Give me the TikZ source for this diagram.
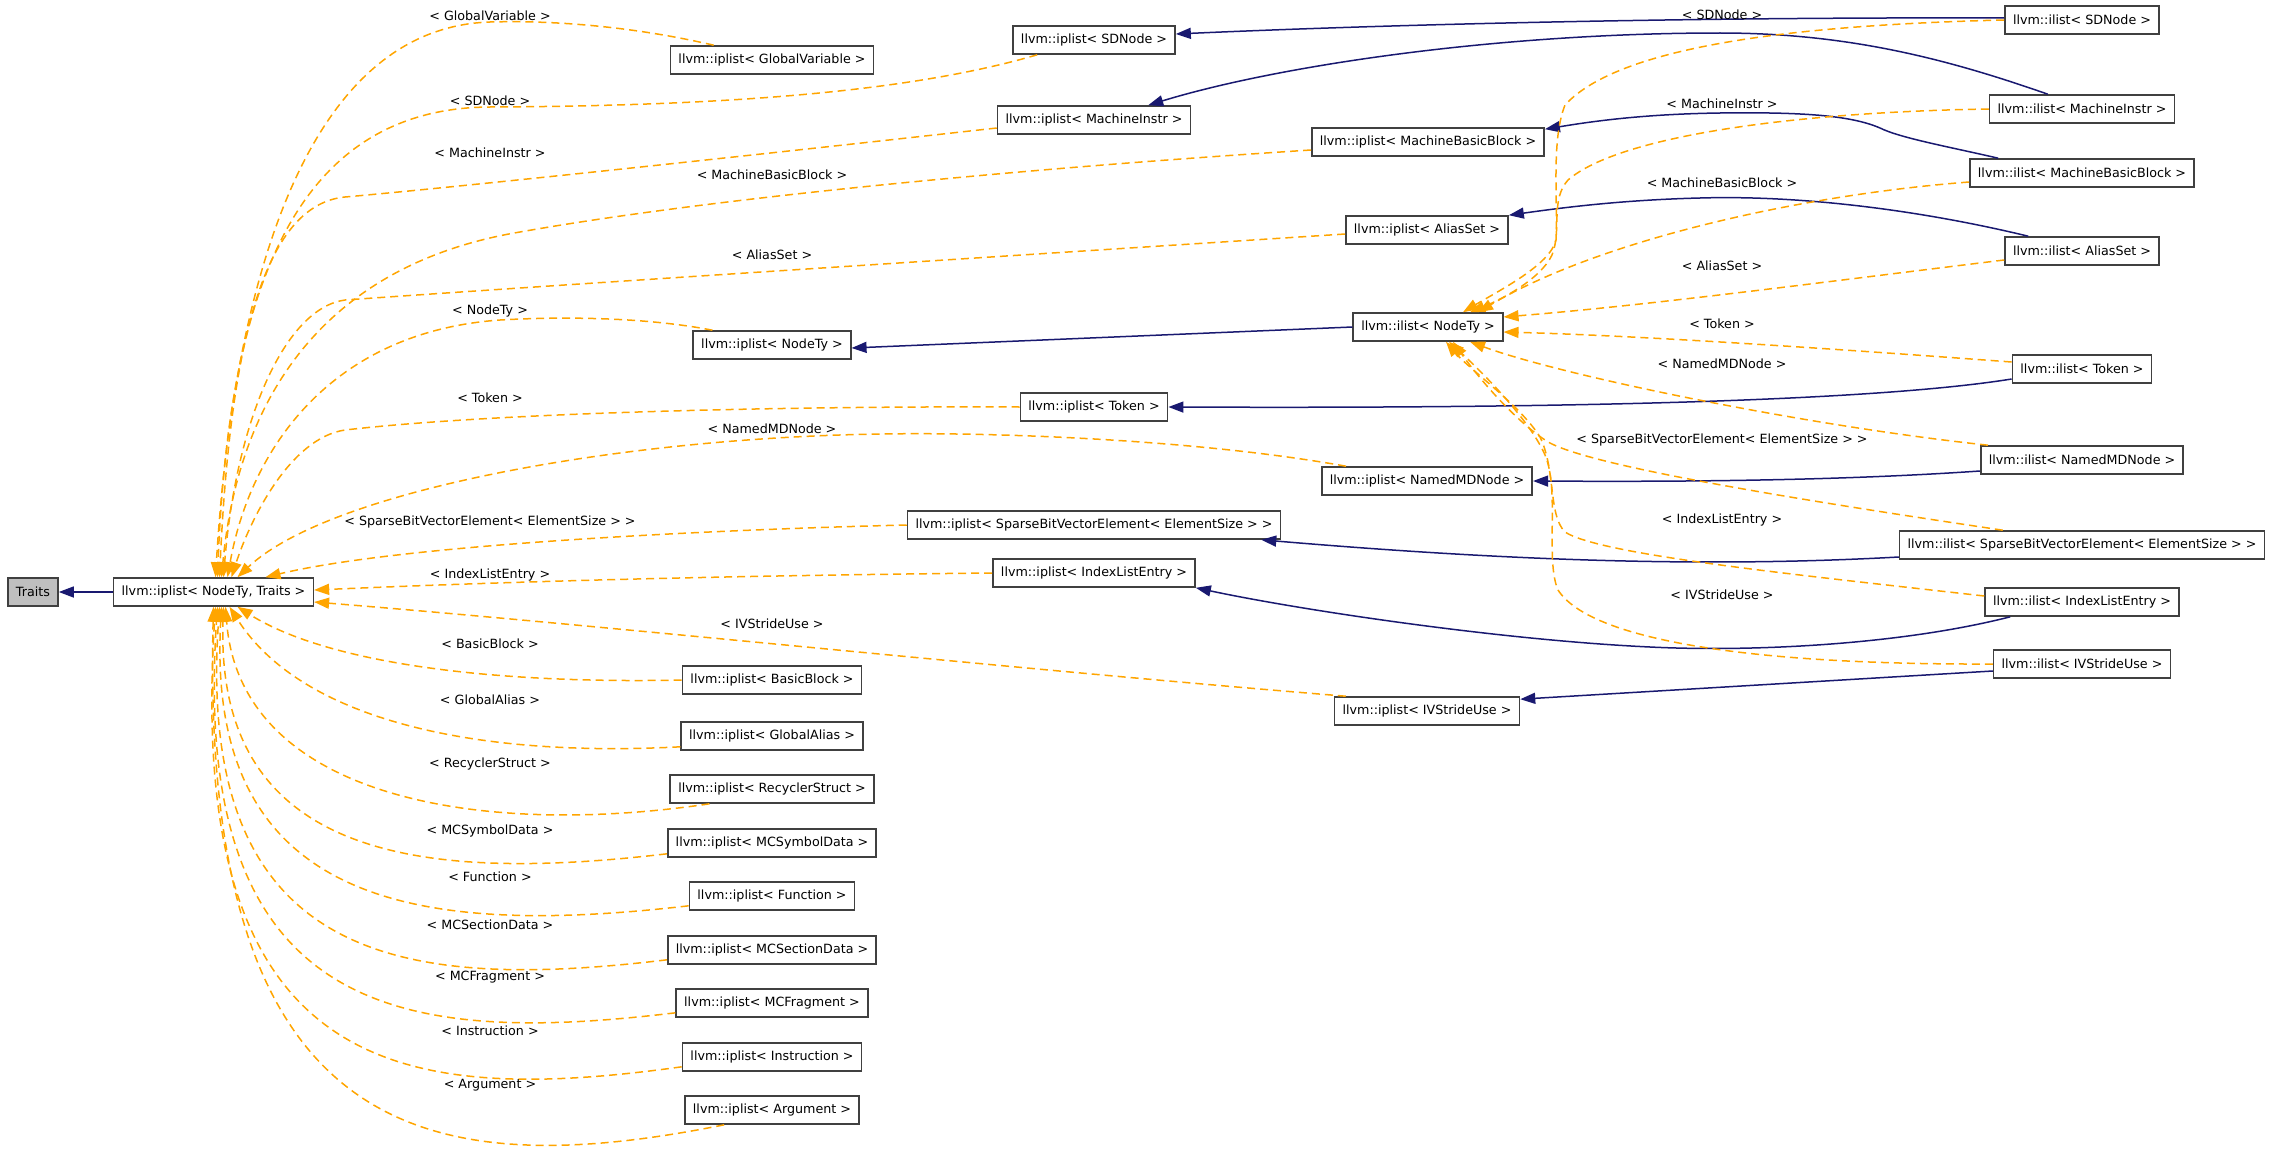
\documentclass[tikz,border=0pt]{standalone}
\usepackage{fontspec}
\setmainfont{DejaVu Sans}
\usepackage{tikz}
\usetikzlibrary{arrows.meta}
\definecolor{edgeblue}{HTML}{191970}
\definecolor{edgeorange}{HTML}{FFA500}
\definecolor{basegray}{HTML}{BFBFBF}
\definecolor{boxline}{HTML}{404040}

\begin{document}
\begin{tikzpicture}[x=1pt,y=-1pt,
    font=\fontsize{12.7}{15}\selectfont,
    cls/.style={draw=boxline,line width=1.6pt,fill=white,inner xsep=8pt,inner ysep=0pt,minimum height=28pt},
    inherit/.style={edgeblue,line width=1.5pt,-{Triangle[length=15pt,width=11pt]}},
    tmplinst/.style={edgeorange,line width=1.5pt,dash pattern=on 8pt off 5pt,-{Triangle[length=15pt,width=11pt]}},
    tmpllbl/.style={inner sep=0pt}]
    \useasboundingbox (0,0) rectangle (2275,1156);

    \node[cls,fill=basegray] (traits) at (33,592) {Traits};
    \node[cls] (iplistbase) at (213.5,592) {llvm::iplist< NodeTy, Traits >};

    \node[cls] (ipGV) at (772,60) {llvm::iplist< GlobalVariable >};
    \node[cls] (ipSD) at (1094,40) {llvm::iplist< SDNode >};
    \node[cls] (ipMI) at (1094,120) {llvm::iplist< MachineInstr >};
    \node[cls] (ipMBB) at (1428,142) {llvm::iplist< MachineBasicBlock >};
    \node[cls] (ipAS) at (1427,230) {llvm::iplist< AliasSet >};
    \node[cls] (ipNT) at (772,345) {llvm::iplist< NodeTy >};
    \node[cls] (ilNT) at (1428,327) {llvm::ilist< NodeTy >};
    \node[cls] (ipTok) at (1094,407) {llvm::iplist< Token >};
    \node[cls] (ipNMD) at (1427,481) {llvm::iplist< NamedMDNode >};
    \node[cls] (ipSBV) at (1094,525) {llvm::iplist< SparseBitVectorElement< ElementSize > >};
    \node[cls] (ipILE) at (1094,573) {llvm::iplist< IndexListEntry >};
    \node[cls] (ipIVS) at (1427,711) {llvm::iplist< IVStrideUse >};
    \node[cls] (ipBB) at (772,680) {llvm::iplist< BasicBlock >};
    \node[cls] (ipGA) at (772,736) {llvm::iplist< GlobalAlias >};
    \node[cls] (ipRS) at (772,789) {llvm::iplist< RecyclerStruct >};
    \node[cls] (ipMCS) at (772,843) {llvm::iplist< MCSymbolData >};
    \node[cls] (ipFn) at (772,896) {llvm::iplist< Function >};
    \node[cls] (ipMCSec) at (772,950) {llvm::iplist< MCSectionData >};
    \node[cls] (ipMCF) at (772,1003) {llvm::iplist< MCFragment >};
    \node[cls] (ipInst) at (772,1057) {llvm::iplist< Instruction >};
    \node[cls] (ipArg) at (772,1110) {llvm::iplist< Argument >};

    \node[cls] (ilSD) at (2082,20) {llvm::ilist< SDNode >};
    \node[cls] (ilMI) at (2082,109) {llvm::ilist< MachineInstr >};
    \node[cls] (ilMBB) at (2082,173) {llvm::ilist< MachineBasicBlock >};
    \node[cls] (ilAS) at (2082,251) {llvm::ilist< AliasSet >};
    \node[cls] (ilTok) at (2082,369) {llvm::ilist< Token >};
    \node[cls] (ilNMD) at (2082,460) {llvm::ilist< NamedMDNode >};
    \node[cls] (ilSBV) at (2082,545) {llvm::ilist< SparseBitVectorElement< ElementSize > >};
    \node[cls] (ilILE) at (2082,602) {llvm::ilist< IndexListEntry >};
    \node[cls] (ilIVS) at (2082,664) {llvm::ilist< IVStrideUse >};

    \draw[inherit] (iplistbase.west) -- (traits.east);
    \draw[inherit] (ilNT.west) -- ([yshift=-3pt]ipNT.east);
    \draw[inherit] ([yshift=2pt]ilSD.west) .. controls (1700,17) and (1400,24) .. ([yshift=6pt]ipSD.east);
    \draw[inherit] ([xshift=59pt]ilMI.north west) .. controls (1950,60) and (1850,33) .. (1720,33) .. controls (1500,33) and (1280,65) .. ([xshift=-43pt]ipMI.north east);
    \draw[inherit] ([xshift=29pt]ilMBB.north west) .. controls (1950,147) and (1900,138) .. (1880,128) .. controls (1850,115) and (1800,112) .. (1720,113) .. controls (1650,114) and (1600,120) .. ([yshift=-2pt]ipMBB.north east);
    \draw[inherit] ([xshift=24pt]ilAS.north west) .. controls (1920,210) and (1800,195) .. (1700,198) .. controls (1620,200) and (1560,208) .. (ipAS.north east);
    \draw[inherit] ([yshift=-10pt]ilTok.west) .. controls (1900,397) and (1650,409) .. (ipTok.east);
    \draw[inherit] ([yshift=-11pt]ilNMD.west) .. controls (1850,480) and (1700,482) .. (ipNMD.east);
    \draw[inherit] ([yshift=-12pt]ilSBV.west) .. controls (1700,568) and (1500,560) .. ([xshift=-20pt]ipSBV.south east);
    \draw[inherit] ([xshift=26pt]ilILE.south west) .. controls (1900,645) and (1750,652) .. (1650,647) .. controls (1500,640) and (1300,610) .. (ipILE.south east);
    \draw[inherit] ([yshift=-7pt]ilIVS.west) -- ([yshift=-3pt]ipIVS.north east);

    \draw[tmplinst] ([xshift=44pt]ipGV.north west) .. controls (640,28) and (560,20) .. (490,22) .. controls (300,28) and (232,300) .. ([xshift=2pt]iplistbase.north);
    \draw[tmplinst] ([xshift=25pt]ipSD.south west) .. controls (900,95) and (700,106) .. (490,107) .. controls (290,108) and (228,300) .. ([xshift=4pt]iplistbase.north);
    \draw[tmplinst] ([yshift=-8pt]ipMI.west) .. controls (800,150) and (480,185) .. (345,197) .. controls (262,205) and (230,350) .. ([xshift=6pt]iplistbase.north);
    \draw[tmplinst] ([yshift=-8pt]ipMBB.west) .. controls (1000,170) and (700,200) .. (520,232) .. controls (340,262) and (240,380) .. ([xshift=8pt]iplistbase.north);
    \draw[tmplinst] ([yshift=-4pt]ipAS.west) .. controls (1100,250) and (600,282) .. (345,300) .. controls (285,308) and (236,420) .. ([xshift=10pt]iplistbase.north);
    \draw[tmplinst] ([xshift=20pt]ipNT.north west) .. controls (650,318) and (570,316) .. (500,320) .. controls (330,332) and (250,450) .. ([xshift=14pt]iplistbase.north);
    \draw[tmplinst] (ipTok.west) .. controls (800,406) and (500,412) .. (345,430) .. controls (290,438) and (250,520) .. ([xshift=18pt]iplistbase.north);
    \draw[tmplinst] ([xshift=25pt]ipNMD.north west) .. controls (1200,440) and (1000,432) .. (880,434) .. controls (620,438) and (330,490) .. ([xshift=24pt]iplistbase.north);
    \draw[tmplinst] (ipSBV.west) .. controls (700,530) and (400,545) .. ([xshift=52pt]iplistbase.north);
    \draw[tmplinst] (ipILE.west) .. controls (700,576) and (500,582) .. ([yshift=2pt]iplistbase.east);
    \draw[tmplinst] ([xshift=12pt]ipIVS.north west) .. controls (1000,668) and (600,625) .. ([yshift=-10pt]iplistbase.east);
    \draw[tmplinst] (ipBB.west) .. controls (500,684) and (330,665) .. ([xshift=24pt]iplistbase.south);
    \draw[tmplinst] ([yshift=4pt]ipGA.south west) .. controls (470,758) and (300,718) .. ([xshift=16pt]iplistbase.south);
    \draw[tmplinst] ([xshift=40pt]ipRS.south west) .. controls (480,838) and (240,798) .. ([xshift=12pt]iplistbase.south);
    \draw[tmplinst] ([yshift=4pt]ipMCS.south west) .. controls (420,883) and (215,858) .. ([xshift=10pt]iplistbase.south);
    \draw[tmplinst] ([yshift=5pt]ipFn.south west) .. controls (420,937) and (205,907) .. ([xshift=8pt]iplistbase.south);
    \draw[tmplinst] ([yshift=5pt]ipMCSec.south west) .. controls (400,992) and (195,962) .. ([xshift=6pt]iplistbase.south);
    \draw[tmplinst] ([yshift=5pt]ipMCF.south west) .. controls (400,1046) and (190,1016) .. ([xshift=4pt]iplistbase.south);
    \draw[tmplinst] ([yshift=5pt]ipInst.south west) .. controls (400,1106) and (185,1076) .. ([xshift=2pt]iplistbase.south);
    \draw[tmplinst] ([xshift=40pt]ipArg.south west) .. controls (420,1186) and (200,1136) .. (iplistbase.south);

    \draw[tmplinst] (ilSD.west) .. controls (1800,25) and (1620,45) .. (1565,105) .. controls (1551,140) and (1558,200) .. (1556,240) .. controls (1550,265) and (1500,290) .. ([xshift=35pt]ilNT.north);
    \draw[tmplinst] (ilMI.west) .. controls (1800,112) and (1620,135) .. (1568,180) .. controls (1550,200) and (1562,230) .. (1552,255) .. controls (1540,280) and (1500,300) .. ([xshift=42pt]ilNT.north);
    \draw[tmplinst] ([yshift=-9pt]ilMBB.west) .. controls (1800,195) and (1600,240) .. ([xshift=50pt]ilNT.north);
    \draw[tmplinst] ([yshift=-9pt]ilAS.west) .. controls (1800,285) and (1650,305) .. ([yshift=10pt]ilNT.east);
    \draw[tmplinst] ([yshift=7pt]ilTok.west) .. controls (1850,350) and (1650,336) .. ([yshift=-5pt]ilNT.east);
    \draw[tmplinst] ([xshift=8pt]ilNMD.north west) .. controls (1800,425) and (1560,375) .. ([xshift=42pt]ilNT.south);
    \draw[tmplinst] ([xshift=104pt]ilSBV.north west) .. controls (1800,500) and (1580,465) .. (1545,440) .. controls (1515,420) and (1480,380) .. ([xshift=25pt]ilNT.south);
    \draw[tmplinst] ([yshift=6pt]ilILE.west) .. controls (1800,575) and (1600,555) .. (1565,532) .. controls (1548,515) and (1556,470) .. (1540,437) .. controls (1520,405) and (1470,370) .. ([xshift=18pt]ilNT.south);
    \draw[tmplinst] (ilIVS.west) .. controls (1750,665) and (1590,640) .. (1558,590) .. controls (1545,560) and (1560,490) .. (1545,455) .. controls (1530,420) and (1480,370) .. ([xshift=21pt]ilNT.south);

    \node[tmpllbl] (lGV) at (490,16) {< GlobalVariable >};
    \node[tmpllbl] (lSD) at (490,101) {< SDNode >};
    \node[tmpllbl] (lMI) at (490,153) {< MachineInstr >};
    \node[tmpllbl] (lMBB) at (772,175) {< MachineBasicBlock >};
    \node[tmpllbl] (lAS) at (772,255) {< AliasSet >};
    \node[tmpllbl] (lNT) at (490,311) {< NodeTy >};
    \node[tmpllbl] (lTok) at (490,398) {< Token >};
    \node[tmpllbl] (lNMD) at (772,429) {< NamedMDNode >};
    \node[tmpllbl] (lSBV) at (490,522) {< SparseBitVectorElement< ElementSize > >};
    \node[tmpllbl] (lILE) at (490,575) {< IndexListEntry >};
    \node[tmpllbl] (lIVS) at (772,624) {< IVStrideUse >};
    \node[tmpllbl] (lBB) at (490,644) {< BasicBlock >};
    \node[tmpllbl] (lGA) at (490,700) {< GlobalAlias >};
    \node[tmpllbl] (lRS) at (490,764) {< RecyclerStruct >};
    \node[tmpllbl] (lMCS) at (490,831) {< MCSymbolData >};
    \node[tmpllbl] (lFn) at (490,877) {< Function >};
    \node[tmpllbl] (lMCSec) at (490,925) {< MCSectionData >};
    \node[tmpllbl] (lMCF) at (490,977) {< MCFragment >};
    \node[tmpllbl] (lInst) at (490,1031) {< Instruction >};
    \node[tmpllbl] (lArg) at (490,1085) {< Argument >};

    \node[tmpllbl] (lilSD) at (1722,15) {< SDNode >};
    \node[tmpllbl] (lilMI) at (1722,104) {< MachineInstr >};
    \node[tmpllbl] (lilMBB) at (1722,183) {< MachineBasicBlock >};
    \node[tmpllbl] (lilAS) at (1722,266) {< AliasSet >};
    \node[tmpllbl] (lilTok) at (1722,324) {< Token >};
    \node[tmpllbl] (lilNMD) at (1722,364) {< NamedMDNode >};
    \node[tmpllbl] (lilSBV) at (1722,440) {< SparseBitVectorElement< ElementSize > >};
    \node[tmpllbl] (lilILE) at (1722,520) {< IndexListEntry >};
    \node[tmpllbl] (lilIVS) at (1722,595) {< IVStrideUse >};
\end{tikzpicture}
\end{document}
